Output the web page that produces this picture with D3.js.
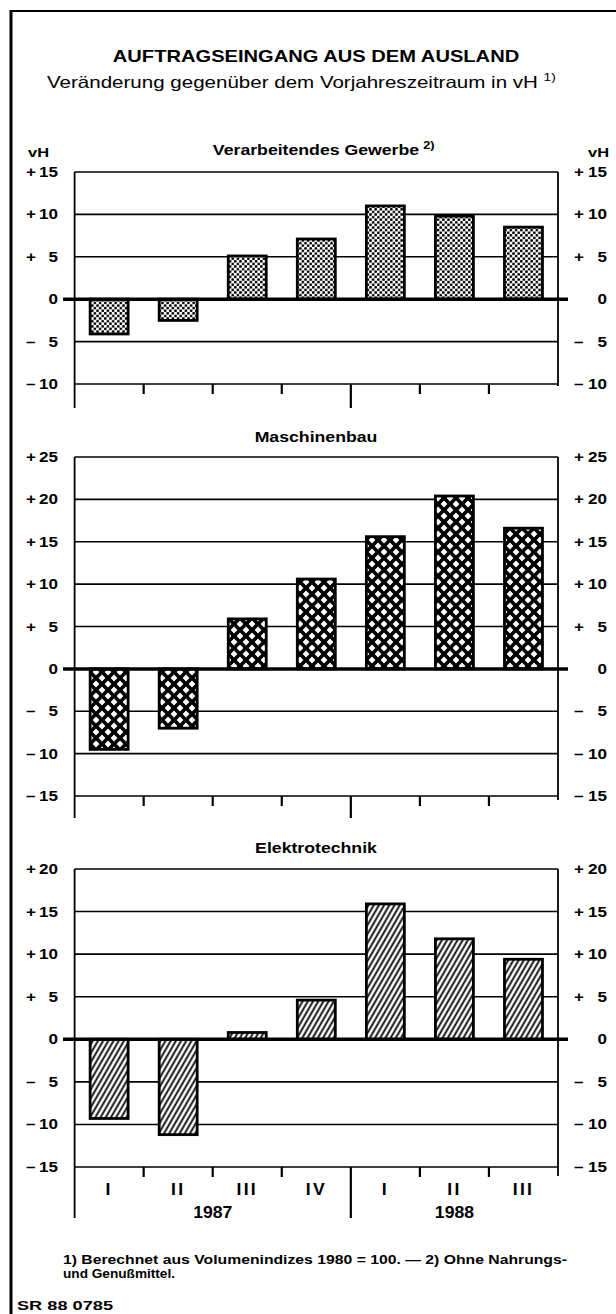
<!DOCTYPE html>
<html><head><meta charset="utf-8">
<script src="https://cdn.jsdelivr.net/npm/d3@7"></script>
<style>
body{margin:0;background:#fff;}
svg{display:block;font-family:"Liberation Sans", Arial, sans-serif;}
</style></head><body>
<svg id="c" width="616" height="1314"></svg>
<script>
// ---- data ----
const quarters = ["I","II","III","IV","I","II","III"];
const years = ["1987","1988"];
const yearStart = [0,4];
const yearEnd = [4,7];
const gewerbe = [-4.1,-2.5,5.1,7.1,11.0,9.8,8.5];
const maschinenbau = [-9.5,-7.0,5.9,10.6,15.6,20.4,16.6];
const elektro = [-9.3,-11.2,0.8,4.6,15.9,11.8,9.4];
const ticksGewerbe = [15,10,5,0,-5,-10];
const ticksMaschinen = [25,20,15,10,5,0,-5,-10,-15];
const ticksElektro = [20,15,10,5,0,-5,-10,-15];
const panelTitles = ["Verarbeitendes Gewerbe","Maschinenbau","Elektrotechnik"];
const panelSups = ["2)","",""];
const title = "AUFTRAGSEINGANG AUS DEM AUSLAND";
const subtitle = "Veränderung gegenüber dem Vorjahreszeitraum in vH";
const footnote1 = "1) Berechnet aus Volumenindizes 1980 = 100. — 2) Ohne Nahrungs-";
const footnote2 = "und Genußmittel.";
const code = "SR 88 0785";

// ---- layout ----
const L = 74.6, R = 558;
const SX = 1.22; // horizontal stretch to mimic the wide typeface
const layout = [
  {top:172, bottom:384, tickEnd:408, rightEnd:386, titleY:155, pattern:"dots"},
  {top:457, bottom:796, tickEnd:818, rightEnd:800, titleY:442, pattern:"cross"},
  {top:869, bottom:1167, tickEnd:1218, rightEnd:1176, titleY:853, pattern:"hatch"}
];
const values = [gewerbe, maschinenbau, elektro];
const ticks = [ticksGewerbe, ticksMaschinen, ticksElektro];

const svg = d3.select("#c");
const defs = svg.append("defs");

function txt(parent, x, y, str, o = {}) {
  const g = parent.append("g").attr("transform", `translate(${x},${y}) scale(${o.sx ?? SX},1)`);
  const t = g.append("text").attr("x",0).attr("y",0)
    .attr("font-size", o.size ?? 13)
    .attr("font-weight", o.weight ?? "bold")
    .attr("text-anchor", o.anchor ?? "start")
    .text(str);
  if (o.ls) t.attr("letter-spacing", o.ls);
  return t;
}

// dotted pattern
const pd = defs.append("pattern").attr("id","dots").attr("patternUnits","userSpaceOnUse").attr("width",5.2).attr("height",5.2);
pd.append("rect").attr("width",5.2).attr("height",5.2).attr("fill","#fff");
[[1.3,1.3],[3.9,3.9]].forEach(([cx,cy])=>pd.append("circle").attr("cx",cx).attr("cy",cy).attr("r",1.4).attr("fill","#000"));
// cross-hatch pattern
const pc = defs.append("pattern").attr("id","cross").attr("patternUnits","userSpaceOnUse").attr("width",12).attr("height",12);
pc.append("rect").attr("width",12).attr("height",12).attr("fill","#000");
const a = 3.4;
const dia = (cx,cy)=>`M${cx},${cy-a}L${cx+a},${cy}L${cx},${cy+a}L${cx-a},${cy}Z`;
pc.append("path").attr("fill","#fff").attr("d",[dia(6,6),dia(0,0),dia(12,0),dia(0,12),dia(12,12)].join(""));
// diagonal hatch
const ph = defs.append("pattern").attr("id","hatch").attr("patternUnits","userSpaceOnUse").attr("width",4.5).attr("height",10).attr("patternTransform","rotate(30)");
ph.append("rect").attr("width",4.5).attr("height",10).attr("fill","#fff");
ph.append("line").attr("x1",2.25).attr("y1",-1).attr("x2",2.25).attr("y2",11).attr("stroke","#000").attr("stroke-width",1.8);

// frame
svg.append("line").attr("x1",11).attr("x2",11).attr("y1",10).attr("y2",1314).attr("stroke","#000").attr("stroke-width",3);
svg.append("line").attr("x1",10).attr("x2",616).attr("y1",11).attr("y2",11).attr("stroke","#000").attr("stroke-width",2);

// titles
txt(svg, 316, 62, title, {size:16.5, anchor:"middle"});
const st = txt(svg, 47, 88, subtitle + " ", {size:16.5, weight:"normal", sx:1.245});
st.append("tspan").attr("font-size",11).attr("dy",-7).text("1)");

txt(svg, 28, 157, "vH", {size:13.5});
txt(svg, 588, 157, "vH", {size:13.5});

const x = d3.scaleBand().domain(d3.range(quarters.length)).range([L,R]).paddingInner(0.45).paddingOuter(0.225);
const step = x.step();

layout.forEach((p,k)=>{
  const tk = ticks[k];
  const y = d3.scaleLinear().domain(d3.extent(tk)).range([p.bottom,p.top]);
  const g = svg.append("g");
  // panel title
  const t = txt(g, 316, p.titleY, panelTitles[k], {size:14.5, anchor:"middle"});
  if (panelSups[k]) {
    const w = t.node().getComputedTextLength();
    txt(g, 316 + w*SX/2 + 4, p.titleY - 6, panelSups[k], {size:10.5});
  }
  // grid lines
  g.selectAll("line.grid").data(tk.filter(v=>v!==0)).join("line")
    .attr("x1",L).attr("x2",R).attr("y1",v=>y(v)).attr("y2",v=>y(v))
    .attr("stroke","#000").attr("stroke-width",1.6);
  // vertical frame
  g.append("line").attr("x1",L).attr("x2",L).attr("y1",p.top).attr("y2",p.tickEnd).attr("stroke","#000").attr("stroke-width",1.8);
  g.append("line").attr("x1",R).attr("x2",R).attr("y1",p.top).attr("y2",p.rightEnd).attr("stroke","#000").attr("stroke-width",1.8);
  // ticks at slot boundaries
  d3.range(1,quarters.length).forEach(i=>{
    const bx = L + i*step;
    const isYear = yearStart.includes(i);
    g.append("line").attr("x1",bx).attr("x2",bx).attr("y1",p.bottom).attr("y2",isYear ? p.tickEnd : p.bottom+10)
      .attr("stroke","#000").attr("stroke-width",2.2);
  });
  // bars
  g.selectAll("rect.bar").data(values[k]).join("rect")
    .attr("x",(d,i)=>x(i)).attr("width",x.bandwidth())
    .attr("y",d=>y(Math.max(0,d))).attr("height",d=>Math.abs(y(d)-y(0)))
    .attr("fill",`url(#${p.pattern})`).attr("stroke","#000").attr("stroke-width",2.8);
  // zero line
  g.append("line").attr("x1",63).attr("x2",568).attr("y1",y(0)).attr("y2",y(0)).attr("stroke","#000").attr("stroke-width",3.5);
  // tick labels left & right
  tk.forEach(v=>{
    const sign = v>0 ? "+" : (v<0 ? "–" : "");
    const num = String(Math.abs(v));
    [[26,58],[574,607]].forEach(([sx,nx])=>{
      if (sign) txt(g, sx, y(v)+5, sign, {size:14});
      txt(g, nx, y(v)+5, num, {size:14, anchor:"end"});
    });
  });
});

// quarter + year labels
quarters.forEach((q,i)=>txt(svg, x(i)+x.bandwidth()/2, 1195, q, {size:16, anchor:"middle", sx:1.1, ls:2}));
years.forEach((yr,i)=>txt(svg, L + (yearStart[i]+yearEnd[i])/2*step, 1218, yr, {size:16, anchor:"middle", sx:1.1}));

// footnotes
svg.append("text").attr("x",63).attr("y",1264).attr("font-weight","bold").attr("font-size",12.5)
  .attr("textLength",504).attr("lengthAdjust","spacingAndGlyphs").text(footnote1);
svg.append("text").attr("x",63).attr("y",1278).attr("font-weight","bold").attr("font-size",12.5)
  .attr("textLength",112).attr("lengthAdjust","spacingAndGlyphs").text(footnote2);
svg.append("text").attr("x",17).attr("y",1310).attr("font-weight","bold").attr("font-size",13)
  .attr("textLength",96).attr("lengthAdjust","spacingAndGlyphs").text(code);
</script>
</body></html>
